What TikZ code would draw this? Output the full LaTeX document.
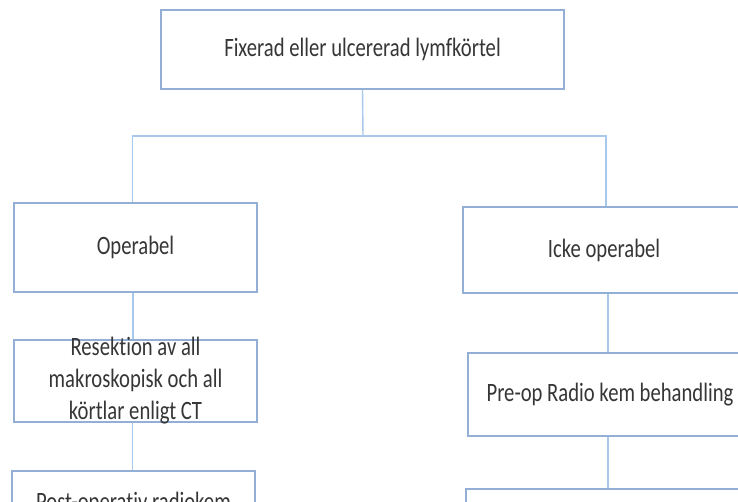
\documentclass[tikz,border=0pt]{standalone}
\usepackage{fontspec}
\newfontfamily\boxfont[FakeStretch=0.78, Ligatures=NoCommon]{Carlito}
\definecolor{boxline}{HTML}{93AFD6}
\definecolor{linkline}{HTML}{A8C8EC}
\definecolor{boxtext}{HTML}{363636}
\tikzset{
  flowbox/.style={draw=boxline, line width=1.7pt, fill=white, rectangle,
    inner sep=0pt, text=boxtext, font=\boxfont\fontsize{26.5}{32}\selectfont},
  boxlabel/.style={inner sep=0pt, text=boxtext, align=center,
    font=\boxfont\fontsize{26.5}{32}\selectfont},
  link/.style={draw=linkline, line width=1.4pt}
}
\begin{document}
\begin{tikzpicture}[x=1pt, y=-1pt]
\useasboundingbox (0,0) rectangle (738,501);
\clip (0,0) rectangle (738,501);
\fill[white] (0,0) rectangle (738,501);

% boxes
\node[flowbox, minimum width=403pt, minimum height=79pt] (top) at (362.5,49.5)
  {Fixerad eller ulcererad lymfkörtel};
\node[flowbox, minimum width=243pt, minimum height=89pt] (oper) at (135.5,247.5)
  {Operabel};
\node[flowbox, minimum width=282pt, minimum height=86pt] (icke) at (604,250)
  {Icke operabel};
\node[flowbox, minimum width=243pt, minimum height=82pt] (resek) at (135.5,381) {};
\node[flowbox, minimum width=243pt, minimum height=86pt] (post) at (133.5,514) {};
\node[flowbox, minimum width=284pt, minimum height=83pt] (preop) at (610,394.5)
  {Pre-op Radio kem behandling};
\node[flowbox, minimum width=284pt, minimum height=86pt] (rest) at (608,532) {};

% texts that run past their boxes
\node[boxlabel] (resektext) at (resek.center)
  {Resektion av all\\makroskopisk och all\\körtlar enligt CT};
\node[boxlabel, anchor=base] (posttext) at (133.5,510) {Post-operativ radiokem};

% connectors
\coordinate (split) at (363,136);
\draw[link] (top.south) -- (split);
\draw[link] (split) -| ([xshift=-3pt]oper.north);
\draw[link] (split) -| ([xshift=2pt]icke.north);
\draw[link] ([xshift=-2.5pt]oper.south) -- ([xshift=-2.5pt]resek.north);
\draw[link] ([xshift=-3pt]resek.south) -- ([xshift=-1pt]post.north);
\draw[link] ([xshift=-2pt]preop.north |- icke.south) -- ([xshift=-2pt]preop.north);
\draw[link] ([xshift=-2pt]preop.south) -- (rest.north);
\end{tikzpicture}
\end{document}
